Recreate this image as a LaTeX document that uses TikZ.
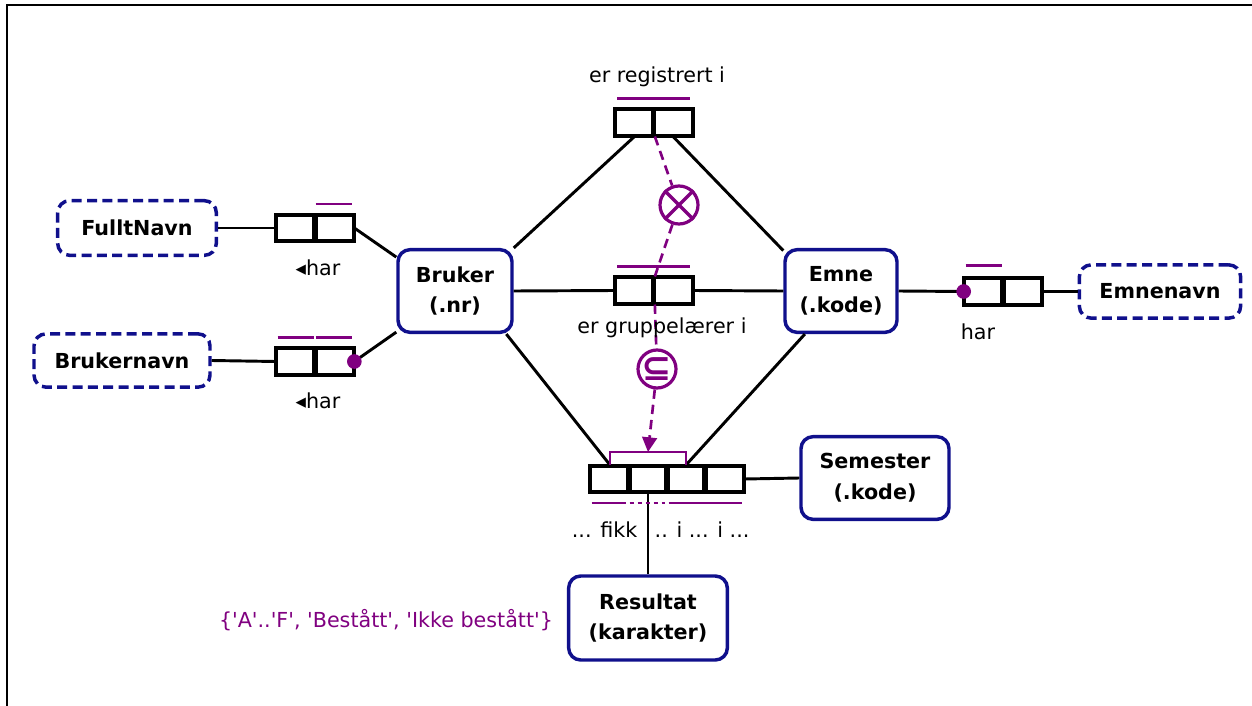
\documentclass[tikz,border=0pt]{standalone}
\usepackage{fontspec}
\setmainfont{DejaVu Sans}
\usetikzlibrary{arrows.meta,calc}
\definecolor{ormpurple}{RGB}{128,0,128}
\definecolor{ormnavy}{RGB}{16,16,140}
\begin{document}
\begin{tikzpicture}[x=0.75pt,y=-0.75pt,
 every node/.style={font=\fontsize{15.5}{23}\selectfont},
 ent/.style={draw=ormnavy, line width=2.6pt, rounded corners=9pt, align=center,
   font=\fontsize{15.5}{23}\selectfont\bfseries, inner sep=0pt, fill=white},
 vent/.style={ent, dash pattern=on 7.5pt off 4pt},
 role/.style={draw, line width=2pt, minimum width=28.5pt, minimum height=19pt, inner sep=0pt, fill=white},
 conn/.style={line width=2.2pt},
 uq/.style={draw=ormpurple, line width=2pt},
 cons/.style={draw=ormpurple, line width=2pt, dash pattern=on 7pt off 4.5pt},
 mand/.style={circle, fill=ormpurple, inner sep=0pt, minimum size=11pt},
 ccirc/.style={circle, draw=ormpurple, line width=2.4pt, minimum size=28.5pt, inner sep=0pt, fill=white},
 symb/.style={text=ormpurple, font=\fontsize{27}{27}\selectfont\bfseries},
 lbl/.style={font=\fontsize{15.5}{18}\selectfont}
]
\useasboundingbox (0,0) rectangle (1252,706);
% frame
\coordinate (ftr) at (1252,5);
\coordinate (ftl) at (7,5);
\coordinate (fbl) at (7,706);
\draw[line width=2pt] (ftr) -- (ftl) -- (fbl);

% entity types
\node[ent, minimum width=85.5pt, minimum height=62pt] (bruker) at (455,291) {Bruker\\(.nr)};
\node[ent, minimum width=84pt, minimum height=62pt] (emne) at (841,291) {Emne\\(.kode)};
\node[ent, minimum width=111pt, minimum height=62pt] (semester) at (875,478) {Semester\\(.kode)};
\node[ent, minimum width=119pt, minimum height=63pt] (resultat) at (648,618) {Resultat\\(karakter)};
\node[vent, minimum width=119pt, minimum height=41pt] (fulltnavn) at (137,228) {FulltNavn};
\node[vent, minimum width=132pt, minimum height=40pt] (brukernavn) at (122,360.5) {Brukernavn};
\node[vent, minimum width=121pt, minimum height=40pt] (emnenavn) at (1160,291.5) {Emnenavn};

% roles
\node[role] (t1) at (634.5,122.5) {};
\node[role] (t2) at (673,122.5) {};
\node[role] (m1) at (634.5,290.5) {};
\node[role] (m2) at (673,290.5) {};
\node[role] (b1) at (610,479) {};
\node[role] (b2) at (648,479) {};
\node[role] (b3) at (686,479) {};
\node[role] (b4) at (724,479) {};
\node[role] (f1) at (296,228) {};
\node[role] (f2) at (334,228) {};
\node[role] (n1) at (296,361.5) {};
\node[role] (n2) at (334,361.5) {};
\node[role] (e1) at (984,291.5) {};
\node[role] (e2) at (1022,291.5) {};

% connectors
\draw[conn] (bruker.north east) -- (t1.south);
\draw[conn] (emne.145) -- (t2.south);
\draw[conn] (bruker.east) -- (m1.west);
\draw[conn] (m2.east) -- (emne.west);
\draw[conn] (bruker.-40) -- (b1.north);
\draw[conn] (emne.-130) -- (b3.north);
\draw[conn] (b4.east) -- (semester.west);
\draw[conn] (b2.south) -- (resultat.north);
\draw[conn] (fulltnavn.east) -- (f1.west);
\draw[conn] (f2.east) -- (bruker.150);
\draw[conn] (brukernavn.east) -- (n1.west);
\draw[conn] (n2.east) -- (bruker.215);
\draw[conn] (emne.east) -- (e1.west);
\draw[conn] (e2.east) -- (emnenavn.west);

% redraw role boxes on top of connectors
\foreach \r in {t1,t2,m1,m2,b1,b2,b3,b4,f1,f2,n1,n2,e1,e2}
  \draw[line width=2pt] (\r.north west) rectangle (\r.south east);

% uniqueness constraints
\draw[uq] ($(t1.north west)+(3,-10)$) -- ($(t2.north east)+(-3,-10)$);
\draw[uq] ($(m1.north west)+(3,-10)$) -- ($(m2.north east)+(-3,-10)$);
\draw[uq] ($(f2.north west)+(2,-10)$) -- ($(f2.north east)+(-2,-10)$);
\draw[uq] ($(n1.north west)+(2,-10)$) -- ($(n1.north east)+(-2,-10)$);
\draw[uq] ($(n2.north west)+(2,-10)$) -- ($(n2.north east)+(-2,-10)$);
\draw[uq] ($(e1.north west)+(2,-12)$) -- ($(e1.north east)+(-2,-12)$);
\draw[uq] ($(b1.south west)+(2,10)$) -- ($(b1.south east)+(-4,10)$);
\draw[ormpurple, line width=2pt, dash pattern=on 3pt off 3pt] ($(b2.south west)+(2,10)$) -- ($(b2.south east)+(-3,10)$);
\draw[uq] ($(b3.south west)+(3,10)$) -- ($(b4.south east)+(-2,10)$);

% mandatory dots
\node[mand] (md1) at (n2.east) {};
\node[mand] (md2) at (e1.west) {};

% exclusion constraint
\node[ccirc] (xc) at (679,205) {};
\draw[ormpurple, line width=2.4pt] (xc.45) -- (xc.225) (xc.135) -- (xc.-45);
\draw[cons] (t1.south east) -- (xc);
\draw[cons] (xc) -- (m1.north east);

% subset constraint
\node[ccirc] (sc) at (657,369) {};
\node[symb] (scs) at (sc.center) {⊆};
\draw[uq] (b1.north) -- ++(0,-13) -| (b3.north);
\coordinate (brk) at ($(b1.north)!0.5!(b3.north)+(0,-13)$);
\draw[cons] (m1.south east) -- (sc);
\draw[cons, -{Triangle[length=11pt,width=11pt]}] (sc) -- (brk);

% labels
\node[lbl] (lt) at (657,77) {er registrert i};
\node[lbl] (lm) at (662,328) {er gruppelærer i};
\node[lbl] (lf) at (318,268) {◂har};
\node[lbl] (ln) at (318,401) {◂har};
\node[lbl] (le) at (978,332) {har};
\node[lbl, anchor=east] (lb1) at (642,530) {... fikk};
\node[lbl, anchor=west] (lb2) at (650,530) {.. i ... i ...};
\node[lbl, text=ormpurple] (vc) at (386,620) {\{\textquotesingle A\textquotesingle ..\textquotesingle F\textquotesingle , \textquotesingle Bestått\textquotesingle , \textquotesingle Ikke bestått\textquotesingle \}};
\end{tikzpicture}
\end{document}
